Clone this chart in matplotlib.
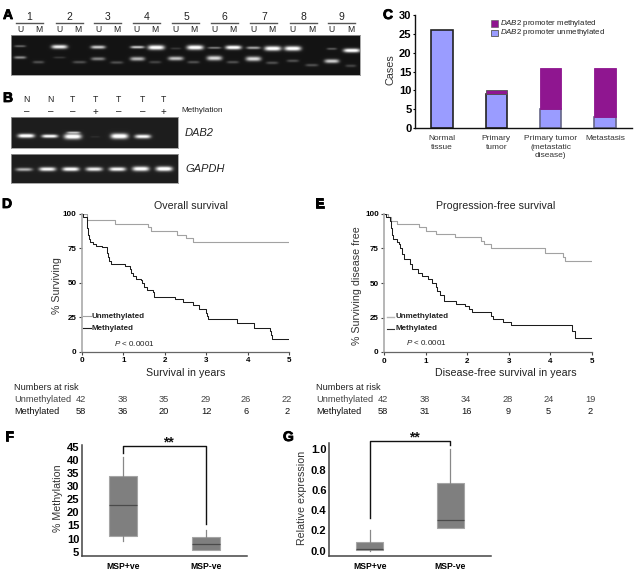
import numpy as np
import matplotlib
matplotlib.use('Agg')
import matplotlib.pyplot as plt
import matplotlib.patheffects as pe
from matplotlib.patches import Rectangle

plt.rcParams['font.family'] = ['Liberation Sans', 'DejaVu Sans']
plt.rcParams['mathtext.fontset'] = 'custom'
plt.rcParams['mathtext.it'] = 'Liberation Sans:italic'
plt.rcParams['mathtext.rm'] = 'Liberation Sans'

W, H = 643, 581

# panel C
stage_labels = ['Normal\ntissue', 'Primary\ntumor', 'Primary tumor\n(metastatic\ndisease)', 'Metastasis']
unmethylated_cases = [26, 9, 5, 3]
methylated_cases = [0, 1, 11, 13]

# panel D, step curves: (years, % surviving)
os_unmeth_t = [0, 0.12, 0.8, 1.6, 1.67, 2.3, 2.5, 2.68, 5]
os_unmeth_s = [100, 95.3, 93, 90.5, 88, 85, 82.5, 80, 80]
os_meth_t = [0, 0.02, 0.12, 0.13, 0.15, 0.17, 0.2, 0.27, 0.33, 0.48, 0.6, 0.63, 0.66, 0.7, 0.72, 1.05, 1.15,
             1.18, 1.22, 1.3, 1.42, 1.45, 1.5, 1.57, 1.72, 1.75, 2.25, 2.45, 2.68, 2.83, 3.0, 3.02, 3.05,
             3.75, 4.15, 4.53, 4.57, 4.6, 5]
os_meth_s = [100, 98, 95, 90, 85, 82, 80, 78, 77, 76, 72, 69, 66, 64, 63.5, 62, 60, 57, 55, 53, 52, 50, 47, 45,
             43, 40, 38, 36, 34, 31, 28, 26, 24, 21, 17, 15, 12, 9, 9]

# panel E
pfs_unmeth_t = [0, 0.1, 0.15, 0.3, 0.83, 1.0, 1.25, 1.7, 2.33, 2.4, 2.58, 3.88, 4.3, 4.35, 5]
pfs_unmeth_s = [100, 98, 95, 93, 90.5, 88, 85.5, 83, 80.5, 78, 75.5, 72, 69, 66, 66]
pfs_meth_t = [0, 0.05, 0.13, 0.15, 0.18, 0.22, 0.3, 0.35, 0.38, 0.42, 0.48, 0.62, 0.66, 0.82, 0.9, 1.05, 1.15,
              1.25, 1.28, 1.33, 1.43, 1.72, 1.95, 2.05, 2.1, 2.58, 2.62, 2.85, 3.05, 4.52, 4.58, 5]
pfs_meth_s = [100, 98, 95, 90, 85, 82, 80, 78, 75, 71, 67.5, 64, 60, 57, 55, 53, 50, 47, 44, 41, 37, 35, 33, 31,
              29, 26, 24, 21.5, 19.5, 15, 10, 10]

# risk tables
risk_os_unmeth = [42, 38, 35, 29, 26, 22]
risk_os_meth = [58, 36, 20, 12, 6, 2]
risk_pfs_unmeth = [42, 38, 34, 28, 24, 19]
risk_pfs_meth = [58, 31, 16, 9, 5, 2]

# panels F and G: whisker low, q1, median, q3, whisker high
groups = ['MSP+ve', 'MSP-ve']
methylation_boxes = [[9, 11, 22.7, 34, 41], [5.5, 5.5, 7.8, 10.5, 13.2]]
expression_boxes = [[0, 0.005, 0.02, 0.09, 0.2], [0.22, 0.22, 0.3, 0.67, 1.0]]

# gel bands: x, y, half width, half height, brightness
gel_a_bands = [(60, 138, 17, 3, .35), (60, 172, 18, 4, .5), (115, 186, 17, 4, .25),
               (178, 140, 24, 6, .9), (178, 172, 18, 3, .15), (238, 186, 20, 4, .25),
               (294, 141, 22, 5, .75), (294, 176, 21, 5, .45), (350, 187, 19, 4, .25),
               (412, 141, 21, 4, .75), (412, 176, 22, 6, .65), (468, 142, 25, 7, 1), (465, 186, 18, 4, .2),
               (527, 145, 16, 3, .15), (527, 175, 23, 6, .7), (585, 142, 25, 7, 1), (580, 186, 18, 4, .25),
               (643, 143, 20, 3, .45), (643, 174, 23, 7, .8), (700, 142, 24, 6, 1), (698, 186, 18, 4, .25),
               (760, 143, 21, 4, .6), (760, 176, 23, 7, .8), (818, 145, 25, 7, 1), (816, 188, 18, 4, .25),
               (878, 145, 25, 7, 1), (878, 182, 18, 4, .25), (935, 195, 19, 4, .25),
               (995, 146, 15, 3, .3), (995, 183, 22, 6, .75), (1055, 151, 25, 6, 1), (1052, 197, 16, 4, .2)]
gel_b1_bands = [(78, 407, 25, 6, 1), (149, 408, 24, 5, .95), (218, 409, 26, 8, 1), (220, 397, 20, 3, .6),
                (285, 410, 14, 2, .08), (358, 408, 26, 8, 1), (428, 409, 24, 6, .9)]
gel_b2_bands = [(72, 508, 25, 5, .6), (142, 507, 25, 6, .9), (212, 507, 25, 6, .95), (282, 507, 25, 6, .85),
                (352, 507, 25, 6, .9), (422, 506, 25, 7, .95), (492, 506, 25, 7, 1)]

fig = plt.figure(figsize=(W / 100, H / 100), dpi=100)


def px_axes(left, top, right, bottom, **kw):
    return fig.add_axes([left / W, 1 - bottom / H, (right - left) / W, (bottom - top) / H], **kw)


page = px_axes(0, 0, W, H)
page.set_xlim(0, W)
page.set_ylim(H, 0)
page.axis('off')
page.set_zorder(5)


def label(x, y, s, size=7, ha='left', color='#222222', **kw):
    page.text(x, y, s, fontsize=size, ha=ha, va='center', color=color, **kw)


def draw_gel(left, top, right, bottom, bands, bg=0.1):
    # bands are read at 3x scale from the reference
    xs = np.arange(left * 3, right * 3, 1.0)
    ys = np.arange(top * 3, bottom * 3, 1.0)
    xx, yy = np.meshgrid(xs, ys)
    img = np.full(xx.shape, float(bg))
    for x, y, hw, hh, level in bands:
        img += level * np.exp(-((xx - x) / hw) ** 4) * np.exp(-((yy - y) / hh) ** 2)
    ax = px_axes(left, top, right, bottom)
    ax.imshow(np.clip(img, 0, 1), cmap='gray', vmin=0, vmax=1, aspect='auto', interpolation='bilinear')
    ax.set_xticks([])
    ax.set_yticks([])
    for s in ax.spines.values():
        s.set_color('#999999')
        s.set_linewidth(0.6)


def clean_axis(ax, color='#333333', lw=1.0):
    for side in ['top', 'right']:
        ax.spines[side].set_visible(False)
    for side in ['left', 'bottom']:
        ax.spines[side].set_color(color)
        ax.spines[side].set_linewidth(lw)


# A
draw_gel(11, 35, 360, 75, gel_a_bands, bg=0.08)
lane_numbers = [88, 208, 323, 440, 558, 674, 792, 910, 1024]
lane_u = [60, 178, 294, 408, 526, 642, 760, 878, 994]
lane_m = [116, 234, 350, 466, 582, 698, 816, 935, 1052]
for i in range(9):
    label(lane_numbers[i] / 3, 16.5, str(i + 1), size=7.5, ha='center')
    page.plot([(lane_numbers[i] - 41) / 3, (lane_numbers[i] + 40) / 3], [22.7, 22.7], color='#555555', lw=1)
    label(lane_u[i] / 3, 29.5, 'U', size=6.2, ha='center')
    label(lane_m[i] / 3, 29.5, 'M', size=6.2, ha='center')

# B
draw_gel(11, 117, 178, 148, gel_b1_bands, bg=0.12)
draw_gel(11, 154, 178, 183, gel_b2_bands, bg=0.12)
lane_b = [80, 152, 217, 285, 355, 427, 490]
for x, top_s, sign in zip(lane_b, ['N', 'N', 'T', 'T', 'T', 'T', 'T'], ['–', '–', '–', '+', '–', '–', '+']):
    label(x / 3, 100, top_s, size=6.2, ha='center')
    label(x / 3, 111.5, sign, size=7, ha='center')
label(181, 111, 'Methylation', size=5.9)
label(184.5, 133.5, 'DAB2', size=8, style='italic')
label(185, 168.5, 'GAPDH', size=8, style='italic')

# C
ax_c = px_axes(415, 15, 632, 128)
x_c = np.arange(len(stage_labels))
edges = ['#222222', '#222222', '#666688', '#666688']
ax_c.bar(x_c, unmethylated_cases, width=0.4, color='#9a9cff', edgecolor=edges, linewidth=1.2)
ax_c.bar(x_c, methylated_cases, width=0.4, bottom=unmethylated_cases, color='#8f1690',
         edgecolor=['none', '#555555', '#8f1690', '#8f1690'], linewidth=0.6)
ax_c.set_xlim(-0.5, 3.5)
ax_c.set_ylim(0, 30)
ax_c.set_yticks(range(0, 31, 5))
ax_c.set_xticks(x_c)
ax_c.set_xticklabels(stage_labels, fontsize=6, color='#333333', linespacing=1.35)
ax_c.tick_params(axis='x', length=0, pad=5)
ax_c.tick_params(axis='y', length=1.5, labelsize=8, pad=1)
for t in ax_c.get_yticklabels():
    t.set_fontweight('bold')
clean_axis(ax_c, color='#111111', lw=1.0)
page.text(390, 70, 'Cases', fontsize=7.8, rotation=90, ha='center', va='center', color='#333333')
page.add_patch(Rectangle((491, 20), 6.5, 6.5, facecolor='#8f1690', edgecolor='#555555', linewidth=0.4))
page.add_patch(Rectangle((491, 29.5), 6.5, 6.5, facecolor='#9a9cff', edgecolor='#555555', linewidth=0.6))
label(500, 23.5, r'$\mathit{DAB2}$ promoter methylated', size=5.7)
label(500, 33, r'$\mathit{DAB2}$ promoter unmethylated', size=5.7)


def km_panel(left, right, top, bottom, t_u, s_u, t_m, s_m, ylabel, y_x, xlabel, x_x, title, title_x):
    ax = px_axes(left, top, right, bottom)
    ax.step(t_u, s_u, where='post', color='#a2a2a2', lw=0.8)
    ax.step(t_m, s_m, where='post', color='#1c1c1c', lw=0.75)
    ax.set_xlim(0, 5)
    ax.set_ylim(0, 100)
    ax.set_xticks(range(6))
    ax.set_yticks([0, 25, 50, 75, 100])
    ax.tick_params(length=2, labelsize=5.8, pad=2, width=0.8, color='#444444')
    for t in ax.get_xticklabels() + ax.get_yticklabels():
        t.set_fontweight('bold')
    clean_axis(ax, color='#666666', lw=0.9)
    ax.spines['left'].set_color('#aaaaaa')
    ax.spines['left'].set_linewidth(1.2)
    label(x_x, 372.5, xlabel, size=7.7, ha='center')
    page.text(y_x, 285.5, ylabel, fontsize=7.7, rotation=90, ha='center', va='center', color='#333333')
    label(title_x, 206, title, size=7.7, ha='center')
    return ax


def risk_table(x0, centers, unmeth, meth):
    label(x0, 387, 'Numbers at risk', size=6.6)
    label(x0, 399, 'Unmethylated', size=6.7, color='#444444')
    label(x0, 412, 'Methylated', size=6.7, color='#111111')
    for x, a, b in zip(centers, unmeth, meth):
        label(x, 399, str(a), size=6.7, ha='center', color='#444444')
        label(x, 412, str(b), size=6.7, ha='center', color='#111111')


# D
km_panel(82, 289, 214, 351.7, os_unmeth_t, os_unmeth_s, os_meth_t, os_meth_s,
         '% Surviving', 57, 'Survival in years', 185.7, 'Overall survival', 191)
page.plot([83, 91], [316, 316], color='#a2a2a2', lw=0.8)
page.plot([83, 91], [328, 328], color='#1c1c1c', lw=0.8)
label(91.5, 316, 'Unmethylated', size=5.8, weight='bold')
label(91.5, 328, 'Methylated', size=5.8, weight='bold')
label(114, 344, r'$\mathit{P}$ < 0.0001', size=5.8)
risk_table(14, [81, 122.7, 164, 206, 246, 287], risk_os_unmeth, risk_os_meth)

# E
km_panel(384.3, 592, 214, 352, pfs_unmeth_t, pfs_unmeth_s, pfs_meth_t, pfs_meth_s,
         '% Surviving disease free', 357, 'Disease-free survival in years', 505.7,
         'Progression-free survival', 496)
page.plot([386.5, 394], [317, 317], color='#b5b5b5', lw=1.0)
page.plot([386.5, 394], [328.5, 328.5], color='#333333', lw=0.8)
label(396, 317, 'Unmethylated', size=5.8, weight='bold')
label(396, 328.5, 'Methylated', size=5.8, weight='bold')
label(405.7, 342.7, r'$\mathit{P}$ < 0.0001', size=5.8)
risk_table(316, [382.7, 424.7, 466, 507.7, 548.7, 590], risk_pfs_unmeth, risk_pfs_meth)


def box_panel(box, rows, ylim, yticks, ticklabels, ylabel, y_x, bracket, star_y):
    ax = px_axes(*box)
    stats = [{'whislo': r[0], 'q1': r[1], 'med': r[2], 'q3': r[3], 'whishi': r[4], 'fliers': []} for r in rows]
    ax.bxp(stats, positions=[0, 1], widths=0.335, patch_artist=True, showcaps=False, showfliers=False,
           boxprops=dict(facecolor='#7f7f7f', edgecolor='#a5a5a5', linewidth=0.8),
           medianprops=dict(color='#4a4a4a', linewidth=0.9),
           whiskerprops=dict(color='#888888', linewidth=0.9))
    ax.set_xlim(-0.5, 1.5)
    ax.set_ylim(*ylim)
    ax.set_yticks(yticks)
    ax.set_yticklabels(ticklabels)
    ax.set_xticks([0, 1])
    ax.set_xticklabels(groups)
    ax.tick_params(axis='x', length=0, labelsize=6.2, pad=4)
    ax.tick_params(axis='y', length=0, labelsize=8, pad=2)
    for t in ax.get_xticklabels() + ax.get_yticklabels():
        t.set_fontweight('bold')
    clean_axis(ax, color='#444444', lw=1.1)
    page.text(y_x, (box[1] + box[3]) / 2 - 2, ylabel, fontsize=7.7, rotation=90, ha='center', va='center',
              color='#333333')
    y_left, y_top, y_right = bracket
    ax.plot([0, 0, 1, 1], [y_left, y_top, y_top, y_right], color='#111111', lw=1.0, clip_on=False, zorder=6)
    x_star = ax.transData.transform((0.55, 0))[0] / fig.dpi * 100
    page.text(x_star, star_y, '**', fontsize=10, fontweight='bold', ha='center', va='center', color='#111111')


# F
box_panel((82, 445, 247, 556), methylation_boxes, (3.34, 45.76), list(range(5, 46, 5)),
          [str(v) for v in range(5, 46, 5)], '% Methylation', 58, (42.7, 45.2, 15.4), 442)
# G
box_panel((329.3, 443.3, 490.7, 556.3), expression_boxes, (-0.056, 1.06), [0, .2, .4, .6, .8, 1],
          ['0.0', '0.2', '0.4', '0.6', '0.8', '1.0'], 'Relative expression', 302, (0.32, 1.085, 1.04), 437.5)

# panel letters
heavy = [pe.withStroke(linewidth=0.6, foreground='black')]
for s, x, y in [('A', 3, 15), ('B', 3, 98), ('C', 383, 15), ('D', 2, 204), ('E', 315, 204), ('F', 5, 437), ('G', 283, 437)]:
    page.text(x, y, s, fontsize=10, fontweight='bold', ha='left', va='center', color='black', path_effects=heavy)

fig.savefig('out.png', dpi=100)
